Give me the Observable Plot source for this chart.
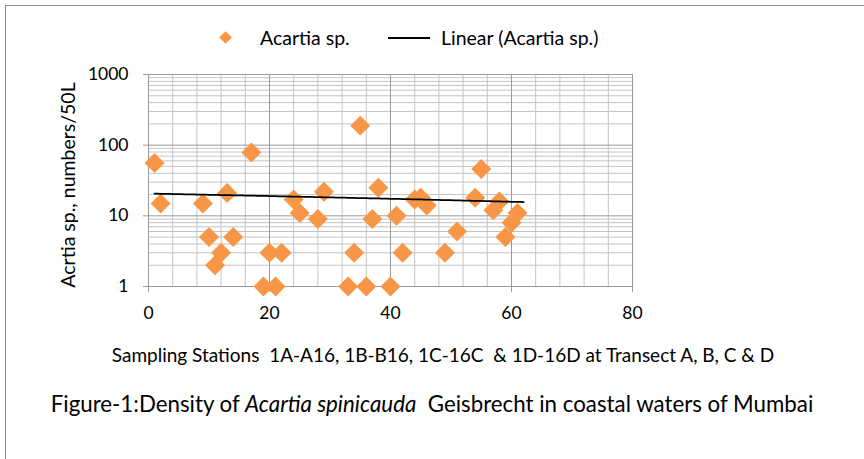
<!DOCTYPE html>
<html><head><meta charset="utf-8">
<script src="https://cdn.jsdelivr.net/npm/d3@7"></script>
<script src="https://cdn.jsdelivr.net/npm/@observablehq/plot@0.6"></script>
<style>
body{margin:0;background:#fff;}
#wrap{position:relative;width:864px;height:459px;overflow:hidden;font-family:Lato,"Open Sans",sans-serif;color:#000;background:#fff;}
#frame{position:absolute;left:5px;top:5px;width:900px;height:500px;border-left:1px solid #8c8c8c;border-top:1px solid #8c8c8c;box-sizing:border-box;}
#chart{position:absolute;left:0;top:0;}
.lg{position:absolute;font-size:19.5px;line-height:24px;white-space:nowrap;}
#ylab{position:absolute;left:68px;top:185px;transform:translate(-50%,-50%) rotate(-90deg);font-size:19.5px;line-height:24px;white-space:nowrap;}
#xlab{position:absolute;left:11px;width:864px;top:343px;text-align:center;font-size:19px;line-height:23px;white-space:nowrap;}
#cap{position:absolute;left:0;width:864px;top:390px;text-align:center;font-size:22.3px;line-height:27px;white-space:nowrap;}
</style></head>
<body>
<div id="wrap">
  <div id="frame"></div>
  <div id="chart"></div>
  <div class="lg" style="left:221px;top:33px;width:9px;height:9px;background:#f79646;transform:rotate(45deg);"></div>
  <div class="lg" style="left:260px;top:26px;">Acartia sp.</div>
  <div class="lg" style="left:388px;top:37px;width:42px;height:2px;background:#000;"></div>
  <div class="lg" style="left:441px;top:26px;">Linear (Acartia sp.)</div>
  <div id="ylab">Acrtia sp., numbers/50L</div>
  <div id="xlab">Sampling Stations&nbsp; 1A-A16, 1B-B16, 1C-16C&nbsp; &amp; 1D-16D at Transect A, B, C &amp; D</div>
  <div id="cap">Figure-1:Density of <i>Acartia spinicauda</i>&nbsp; Geisbrecht in coastal waters of Mumbai</div>
</div>
<script>
// Data
const stations = [1,2,9,10,11,12,13,14,17,19,20,21,22,24,25,28,29,33,34,35,36,37,38,40,41,42,44,45,46,49,51,54,55,57,58,59,60,61];
const acartia  = [56,15,15,5,2,3,21,5,79,1,3,1,3,17,11,9,22,1,3,189,1,9,25,1,10,3,17,18,14,3,6,18,46,12,16,5,8,11];
const xTicks = [0,20,40,60,80];
const yTicks = [1,10,100,1000];
const xMinorStep = 4;
const trendRange = [1,62];

const data = stations.map((s,i)=>({station:s, value:acartia[i]}));

// linear (least squares) trend of the series, as Excel's "Linear" trendline
const mx = d3.mean(stations), my = d3.mean(acartia);
const sxy = d3.sum(stations, (x,i)=>(x-mx)*(acartia[i]-my));
const sxx = d3.sum(stations, x=>(x-mx)*(x-mx));
const slope = sxy/sxx, intercept = my - slope*mx;
const trend = d3.range(trendRange[0], trendRange[1]+1e-9, 0.5).map(x=>({x, y: intercept + slope*x}));

const xMinor = d3.range(xTicks[0], xTicks[xTicks.length-1]+1e-9, xMinorStep).filter(v=>!xTicks.includes(v));
const yMinor = yTicks.slice(0,-1).flatMap(d=>d3.range(2,10).map(k=>k*d));

const W = 864, H = 340;
const plot = Plot.plot({
  width: W, height: H,
  marginLeft: 148, marginRight: W-632, marginTop: 74, marginBottom: H-286,
  style: {fontFamily: "Lato, 'Open Sans', sans-serif", fontSize: "17.5px", color: "#000", background: "transparent"},
  x: {domain: [0,80]},
  y: {type: "log", domain: [1,1000]},
  marks: [
    Plot.ruleX(xMinor, {stroke: "#c4c4c4", strokeWidth: 1}),
    Plot.ruleY(yMinor, {stroke: "#c4c4c4", strokeWidth: 1}),
    Plot.ruleX(xTicks, {stroke: "#9a9a9a", strokeWidth: 1, insetBottom: -6}),
    Plot.ruleY(yTicks, {stroke: "#9a9a9a", strokeWidth: 1, insetLeft: -5}),
    Plot.axisX({ticks: xTicks, tickSize: 0, tickPadding: 20, label: null, tickFormat: d=>String(d), fill: "#000"}),
    Plot.axisY({ticks: yTicks, tickSize: 0, tickPadding: 20, label: null, tickFormat: d=>String(d), fill: "#000"}),
    Plot.dot(data, {x: "station", y: "value", symbol: "diamond2", r: 9, fill: "#f79646"}),
    Plot.line(trend, {x: "x", y: "y", stroke: "#000", strokeWidth: 1.75})
  ]
});
document.getElementById("chart").appendChild(plot);
</script>
</body></html>
